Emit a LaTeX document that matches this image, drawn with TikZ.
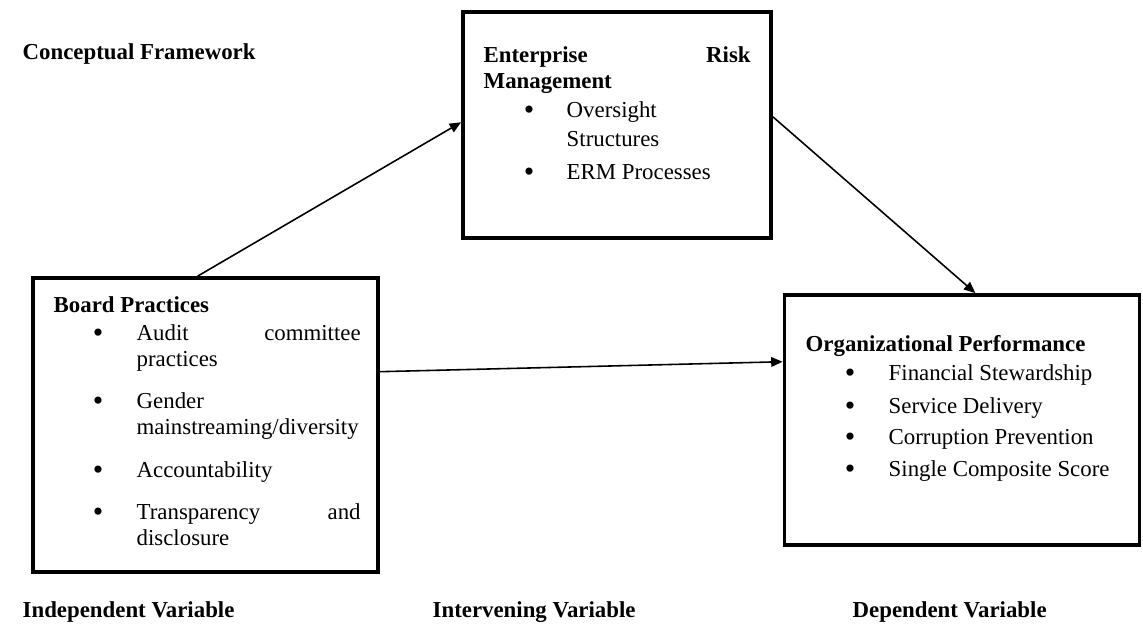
\documentclass[tikz,border=0pt]{standalone}
\usepackage{fontspec}
\setmainfont{Liberation Serif}
\usetikzlibrary{arrows.meta}

\begin{document}
\begin{tikzpicture}[x=0.02cm, y=-0.02cm, thick,
    box/.style={draw, line width=2.2pt, inner sep=0pt},
    txt/.style={anchor=base west, inner sep=0pt, font=\fontsize{13}{15}\selectfont},
    hdr/.style={txt, font=\fontsize{13}{15}\selectfont\bfseries},
    bul/.style={anchor=base, inner sep=0pt, yshift=-1.2pt, font=\fontsize{17}{15}\selectfont},
    conn/.style={line width=0.9pt, -{Triangle[length=6.5pt, width=5.5pt]}}]
        \useasboundingbox (0,0) rectangle (1143,623);

        % Riquadri delle tre variabili
        \node[box, minimum width=6.9cm, minimum height=5.88cm] (board) at (205.5,425) {};
        \node[box, minimum width=6.16cm, minimum height=4.52cm] (erm) at (617,125) {};
        \node[box, minimum width=7.1cm, minimum height=5.0cm] (perf) at (962,420) {};

        \node[hdr] (title) at (22,59) {Conceptual Framework};

        % Board Practices
        \node[hdr] (board_title) at (53,312) {Board Practices};
        \node[bul] (b_dot1) at (98,340) {\textbullet};
        \node[txt, text width=4.5cm] (b_audit) at (136,340) {\hbox to 4.48cm{Audit\hfill committee}\\ practices};
        \node[bul] (b_dot2) at (98,408) {\textbullet};
        \node[txt, text width=4.5cm] (b_gender) at (136,408) {Gender\\ mainstreaming/diversity};
        \node[bul] (b_dot3) at (98,477) {\textbullet};
        \node[txt] (b_account) at (136,477) {Accountability};
        \node[bul] (b_dot4) at (98,519) {\textbullet};
        \node[txt, text width=4.5cm] (b_transp) at (136,519) {\hbox to 4.48cm{Transparency\hfill and}\\ disclosure};

        % Enterprise Risk Management
        \node[hdr, text width=5.34cm] (erm_title) at (483,62) {\hbox to 5.34cm{Enterprise\hfill Risk}\\ Management};
        \node[bul] (e_dot1) at (529,117) {\textbullet};
        \node[txt, text width=3cm] (e_oversight) at (566,117) {Oversight\\[2pt] Structures};
        \node[bul] (e_dot2) at (529,179) {\textbullet};
        \node[txt] (e_process) at (566,179) {ERM Processes};

        % Organizational Performance
        \node[hdr] (perf_title) at (805,351) {Organizational Performance};
        \node[bul] (p_dot1) at (850,380) {\textbullet};
        \node[txt] (p_fin) at (888,380) {Financial Stewardship};
        \node[bul] (p_dot2) at (850,413) {\textbullet};
        \node[txt] (p_serv) at (888,413) {Service Delivery};
        \node[bul] (p_dot3) at (850,444) {\textbullet};
        \node[txt] (p_corr) at (888,444) {Corruption Prevention};
        \node[bul] (p_dot4) at (850,476) {\textbullet};
        \node[txt] (p_score) at (888,476) {Single Composite Score};

        % Etichette in basso
        \node[hdr] (indep) at (22,617) {Independent Variable};
        \node[hdr] (interv) at (432,617) {Intervening Variable};
        \node[hdr] (dep) at (852,617) {Dependent Variable};

        \draw[conn] (board.93) -- (erm.179);
        \draw[conn] (erm.3) -- (perf.84);
        \draw[conn] (board.17) -- (perf.162);
    \end{tikzpicture}
\end{document}
